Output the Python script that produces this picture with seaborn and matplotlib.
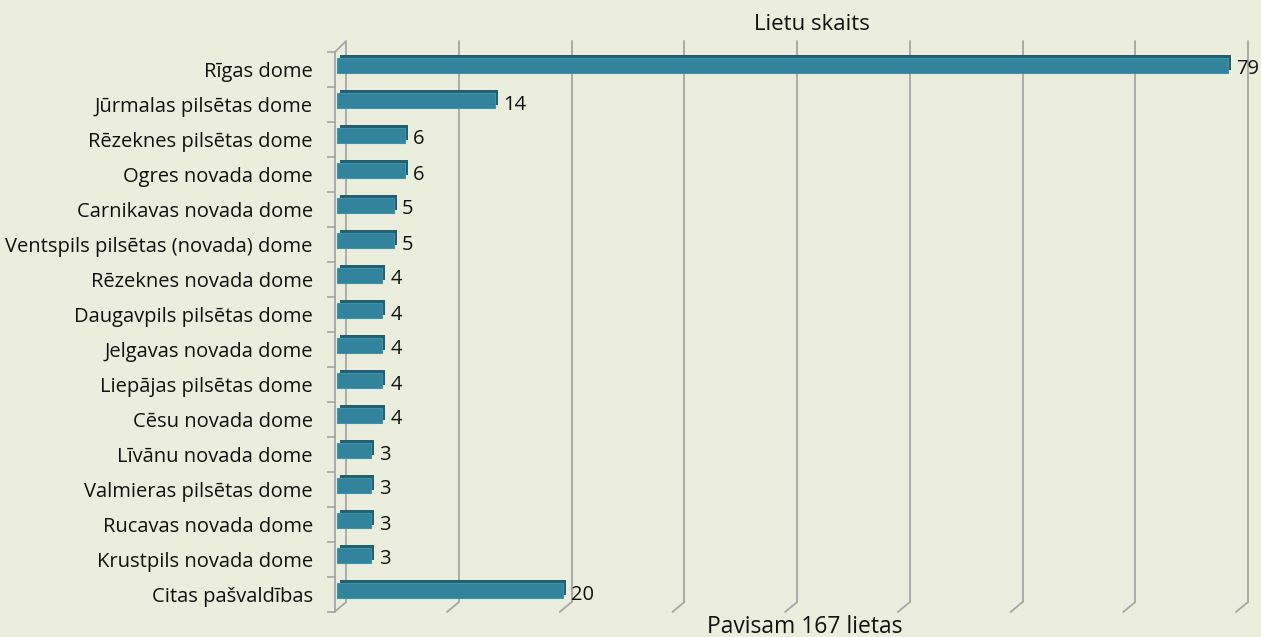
import matplotlib
matplotlib.use("Agg")
import matplotlib.pyplot as plt
import matplotlib.patheffects as pe
from matplotlib.transforms import ScaledTranslation
import seaborn as sns
import pandas as pd

categories = [
    "Rīgas dome", "Jūrmalas pilsētas dome", "Rēzeknes pilsētas dome",
    "Ogres novada dome", "Carnikavas novada dome", "Ventspils pilsētas (novada) dome",
    "Rēzeknes novada dome", "Daugavpils pilsētas dome", "Jelgavas novada dome",
    "Liepājas pilsētas dome", "Cēsu novada dome", "Līvānu novada dome",
    "Valmieras pilsētas dome", "Rucavas novada dome", "Krustpils novada dome",
    "Citas pašvaldības",
]
values = [79, 14, 6, 6, 5, 5, 4, 4, 4, 4, 4, 3, 3, 3, 3, 20]
x_ticks = [0, 10, 20, 30, 40, 50, 60, 70, 80]
title = "Lietu skaits"
xlabel = "Pavisam 167 lietas"

BG = "#EBEEDD"
BAR = "#31849B"
DARK = "#22606F"
GRID = "#A6A6A6"
FONT = "Open Sans"

df = pd.DataFrame({"name": categories, "value": values})

sns.set_theme(style="white")
plt.rcParams["font.family"] = [FONT, "DejaVu Sans"]

W, H = 1261, 637
fig = plt.figure(figsize=(W / 100, H / 100), dpi=100, facecolor=BG)
ax_l, ax_r, ax_top, ax_bot = 335, 1239, 52, 612
ax = fig.add_axes([ax_l / W, (H - ax_bot) / H, (ax_r - ax_l) / W, (ax_bot - ax_top) / H])
ax.set_facecolor(BG)

sns.barplot(data=df, x="value", y="name", orient="h", color=BAR, width=0.44,
            saturation=1, ax=ax, zorder=3)
xmin, xmax = -0.2, 80
ax.set_xlim(xmin, xmax)
ax.set_ylim(len(categories) - 0.5, -0.5)

px_x = (xmax - xmin) / (ax_r - ax_l)          # data units per pixel in x
px_y = 1.0 / (ax_bot - ax_top)                # axes units per pixel in y

# shift bars slightly upward (3D look) and add depth faces
up = ScaledTranslation(0, 4 / 100, fig.dpi_scale_trans)
for p in ax.patches:
    p.set_transform(ax.transData + up)
    p.set_edgecolor("#3E93AA")
    p.set_linewidth(0.8)
    p.set_path_effects([
        pe.SimplePatchShadow(offset=(2.2, 2.0), shadow_rgbFace=DARK, alpha=1.0),
        pe.Normal(),
    ])

# 3D-style gridlines (back wall) with floor diagonals
xt = ax.get_xaxis_transform()
dx_back = 9 * px_x
dy_back = 10 * px_y
for t in x_ticks:
    ax.plot([t + dx_back, t + dx_back], [dy_back, 1 + 11 * px_y], transform=xt,
            color=GRID, lw=1.3, clip_on=False, zorder=1)
    ax.plot([t - 3 * px_x, t + dx_back], [0, dy_back], transform=xt,
            color=GRID, lw=1.3, clip_on=False, zorder=1)

# left axis with top diagonal
ax.plot([xmin, xmin], [0, 1], transform=xt, color=GRID, lw=1.3, clip_on=False)
ax.plot([xmin, xmin + 10 * px_x], [1, 1 + 10 * px_y], transform=xt,
        color=GRID, lw=1.3, clip_on=False)

for s in ax.spines.values():
    s.set_visible(False)

ax.set_xticks([])
ax.set_yticks(range(len(categories)))
ax.set_yticklabels(categories)
ax.set_yticks([i - 0.5 for i in range(len(categories) + 1)], minor=True)
ax.tick_params(axis="y", which="major", length=0, pad=16, labelsize=14.5,
               labelcolor="#111111")
ax.tick_params(axis="y", which="minor", length=6, width=1.2, color=GRID, left=True)
ax.set_xlabel("")
ax.set_ylabel("")

labels = ax.bar_label(ax.containers[0], fmt="%d", padding=6, fontsize=14.5,
                      color="#111111")
for tx in labels:
    tx.set_transform(tx.get_transform() + up)

fig.text(812 / W, 1 - 25 / H, title, ha="center", va="center", fontsize=16,
         color="#111111")
fig.text(805 / W, 1 - 627 / H, xlabel, ha="center", va="center", fontsize=16.5,
         color="#111111")

fig.savefig("out.png", dpi=100, facecolor=BG)
